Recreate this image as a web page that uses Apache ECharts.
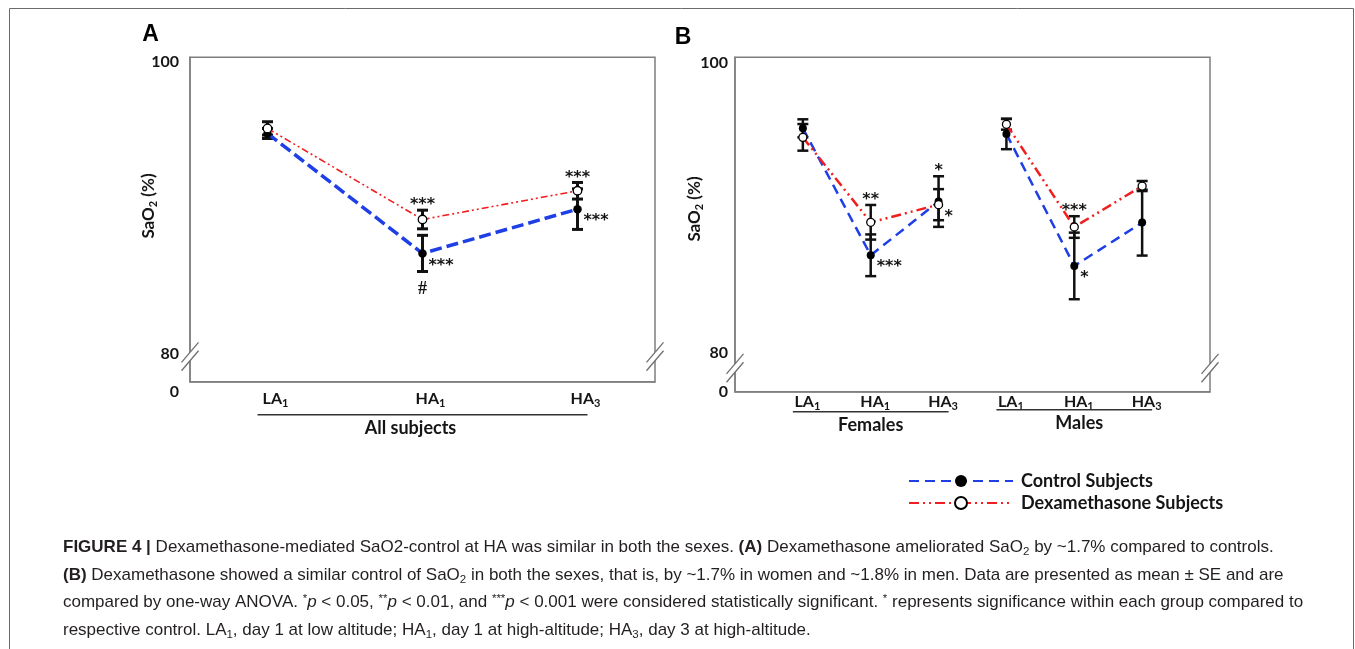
<!doctype html>
<html>
<head>
<meta charset="utf-8">
<title>SaO2 - dexamethasone vs control</title>
<script src="https://cdn.jsdelivr.net/npm/echarts@6/dist/echarts.min.js"></script>
<style>
    html, body{ margin: 0; padding: 0; background: #fff; }
    #chartBox{ width: 1355px; height: 649px; }
</style>
</head>
<body>
<div id="chartBox"></div>
<script type="text/javascript">
    // time points
    var timePoints = ['LA1', 'HA1', 'HA3'];
    // panel B x slots: females 1-3, males 4-6
    var slotLabelsB = ['', 'LA1', 'HA1', 'HA3', 'LA1', 'HA1', 'HA3', ''];

    // y axis is broken below 80, its bottom end is labelled 0
    var yTicksA = [78.1, 80, 100];
    var yTicksB = [77.4, 80, 100];
    var yTickText = ['0', '80', '100'];

    // A: all subjects, mean and SE
    var ctrlAllMean = [94.86, 86.76, 89.75];
    var ctrlAllSE   = [0.34, 1.22, 1.37];
    var dexAllMean  = [95.20, 89.05, 90.99];
    var dexAllSE    = [0.45, 0.63, 0.56];

    // B: females
    var ctrlFemMean = [95.20, 86.62, 90.25];
    var ctrlFemSE   = [0.61, 1.41, 1.71];
    var dexFemMean  = [94.59, 88.85, 90.04];
    var dexFemSE    = [0.90, 1.17, 1.05];

    // B: males
    var ctrlMaleMean = [94.82, 85.90, 88.83];
    var ctrlMaleSE   = [1.03, 2.25, 2.23];
    var dexMaleMean  = [95.47, 88.53, 91.30];
    var dexMaleSE    = [0.36, 0.73, 0.34];

    // significance marks
    var ctrlAllRight  = ['', '***', '***'];
    var ctrlAllBelow  = ['', '#', ''];
    var dexAllAbove   = ['', '***', '***'];
    var ctrlFemRight  = ['', '***', ''];
    var ctrlFemAbove  = ['', '', '*'];
    var dexFemAbove   = ['', '**', ''];
    var dexFemRight   = ['', '', '*'];
    var ctrlMaleRight = ['', '*', ''];
    var dexMaleAbove  = ['', '***', ''];

    var captionLines = [
        '{b|FIGURE 4 |} Dexamethasone-mediated SaO2-control at HA was similar in both the sexes. {b|(A)} Dexamethasone ameliorated SaO{s|2} by ~1.7% compared to controls.',
        '{b|(B)} Dexamethasone showed a similar control of SaO{s|2} in both the sexes, that is, by ~1.7% in women and ~1.8% in men. Data are presented as mean \u00b1 SE and are',
        'compared by one-way ANOVA. {sup|*}{i|p} < 0.05, {sup|**}{i|p} < 0.01, and {sup|***}{i|p} < 0.001 were considered statistically significant. {sup|*} represents significance within each group compared to',
        'respective control. LA{s|1}, day 1 at low altitude; HA{s|1}, day 1 at high-altitude; HA{s|3}, day 3 at high-altitude.'
    ];

    var BLUE = '#1e3ee6', RED = '#f01e1e', AXIS = '#7f7f7f', INK = '#151515';
    var FONT = 'Lato';
    var CAP_FONT = 'Liberation Sans', CAP_SIZE = 17, CAP_INK = '#231f20';

    function tf(extra){
        var o = {fontFamily: FONT, fontWeight: 'bold', fontSize: 16, color: INK};
        for (var k in extra) o[k] = extra[k];
        return o;
    }
    function subLabel(t){
        return t ? '{m|' + t.slice(0, 2) + '}{s|' + t.slice(2) + '}' : '';
    }

    function toXY(offset, arr){
        return arr.map(function(v, i){ return [offset + i, v]; });
    }
    function toBars(offset, mean, se){
        return mean.map(function(v, i){ return [offset + i, v, se[i]]; });
    }

    function noteText(t, x, y, align, serif){
        return {
            type: 'text', x: x, y: y,
            style: {
                text: t, fill: INK,
                fontFamily: serif ? 'Liberation Serif' : 'DejaVu Sans',
                fontWeight: 'bold',
                fontSize: serif ? 18 : 16,
                align: align, textAlign: align,
                verticalAlign: 'middle', textVerticalAlign: 'middle'
            }
        };
    }

    //error bars plus the significance marks around them
    function errorBars(notes, lw){
        return function(params, api){
            var x = api.value(0), m = api.value(1), se = api.value(2);
            var c = api.coord([x, m]);
            var hi = api.coord([x, m + se]);
            var lo = api.coord([x, m - se]);
            var w = 5.5;
            var st = {stroke: '#111', lineWidth: lw};
            var kids = [
                {type: 'line', shape: {x1: c[0], y1: hi[1], x2: c[0], y2: lo[1]}, style: st},
                {type: 'line', shape: {x1: c[0] - w, y1: hi[1], x2: c[0] + w, y2: hi[1]}, style: st},
                {type: 'line', shape: {x1: c[0] - w, y1: lo[1], x2: c[0] + w, y2: lo[1]}, style: st}
            ];
            var i = params.dataIndex;
            if (notes.above && notes.above[i]) kids.push(noteText(notes.above[i], c[0], hi[1] - 5, 'center'));
            if (notes.right && notes.right[i]) kids.push(noteText(notes.right[i], c[0] + 6, c[1] + 12, 'left'));
            if (notes.below && notes.below[i]) kids.push(noteText(notes.below[i], c[0], lo[1] + 18, 'center', true));
            return {type: 'group', children: kids};
        };
    }

    function ctrlLine(name, axis, data, width, dash, size){
        return {
            name: name, type: 'line', xAxisIndex: axis, yAxisIndex: axis, data: data,
            symbol: 'circle', symbolSize: size, z: 3,
            itemStyle: {color: '#000'},
            lineStyle: {color: BLUE, width: width, type: dash}
        };
    }
    function dexLine(name, axis, data, width, dash, size){
        return {
            name: name, type: 'line', xAxisIndex: axis, yAxisIndex: axis, data: data,
            symbol: 'circle', symbolSize: size, z: 4,
            itemStyle: {color: '#fff', borderColor: '#000', borderWidth: 1.3},
            lineStyle: {color: RED, width: width, type: dash}
        };
    }
    function barSeries(axis, data, notes, lw){
        return {
            type: 'custom', xAxisIndex: axis, yAxisIndex: axis, data: data, z: 2,
            renderItem: errorBars(notes, lw), clip: false
        };
    }

    function yAxisFor(idx, ticks, pads, margin){
        var rich = {};
        pads.forEach(function(p, i){ rich['k' + i] = tf({padding: [p, 0, 0, 0]}); });
        return {
            type: 'value', gridIndex: idx, min: ticks[0], max: ticks[2],
            axisLine: {show: true, lineStyle: {color: AXIS, width: 1.5}},
            axisTick: {show: false},
            splitLine: {show: false},
            axisLabel: {
                customValues: ticks, margin: margin,
                formatter: function(v){
                    var i = ticks.indexOf(v);
                    return i < 0 ? '' : '{k' + i + '|' + yTickText[i] + '}';
                },
                rich: rich
            }
        };
    }

    var xRich = {m: tf({}), s: tf({fontSize: 11, padding: [9, 0, 0, 0]})};

    var DASH_B = [10, 6], DOTS_B = [10, 4, 2, 4, 2, 4];

    var option = {
        animation: false,
        backgroundColor: '#fff',
        grid: [
            {left: 190, right: 700, top: 57.3, bottom: 267.3, show: true, borderColor: AXIS, borderWidth: 1.5},
            {left: 735, right: 145, top: 57.3, bottom: 257.3, show: true, borderColor: AXIS, borderWidth: 1.5}
        ],
        xAxis: [
            {
                type: 'category', gridIndex: 0, data: timePoints, boundaryGap: true,
                axisLine: {lineStyle: {color: AXIS, width: 1.5}},
                axisTick: {show: false},
                axisLabel: {margin: 7, padding: [0, 0, 0, 16], formatter: subLabel, rich: xRich}
            },
            {
                type: 'value', gridIndex: 1, min: 0, max: 7, interval: 1,
                axisLine: {lineStyle: {color: AXIS, width: 1.5}},
                axisTick: {show: false},
                splitLine: {show: false},
                axisLabel: {
                    margin: 0, padding: [0, 0, 0, 9], rich: xRich,
                    formatter: function(v){ return subLabel(slotLabelsB[v]); }
                }
            }
        ],
        yAxis: [
            yAxisFor(0, yTicksA, [20, 0, 10], 11),
            yAxisFor(1, yTicksB, [0, 0, 12], 7)
        ],
        legend: {
            data: ['Control Subjects', 'Dexamethasone Subjects'],
            orient: 'vertical', left: 903, top: 467,
            itemWidth: 104, itemHeight: 15, itemGap: 4,
            selectedMode: false,
            textStyle: {fontFamily: FONT, fontWeight: 'bold', fontSize: 18, color: INK, padding: [0, 0, 0, 3]}
        },
        series: [
            // panel B (first, so the legend takes its line styles)
            ctrlLine('Control Subjects', 1, toXY(1, ctrlFemMean), 2.5, DASH_B, 8),
            dexLine('Dexamethasone Subjects', 1, toXY(1, dexFemMean), 2.5, DOTS_B, 8),
            ctrlLine('Control Subjects', 1, toXY(4, ctrlMaleMean), 2.5, DASH_B, 8),
            dexLine('Dexamethasone Subjects', 1, toXY(4, dexMaleMean), 2.5, DOTS_B, 8),
            barSeries(1, toBars(1, ctrlFemMean, ctrlFemSE), {above: ctrlFemAbove, right: ctrlFemRight}, 2.5),
            barSeries(1, toBars(1, dexFemMean, dexFemSE), {above: dexFemAbove, right: dexFemRight}, 2.5),
            barSeries(1, toBars(4, ctrlMaleMean, ctrlMaleSE), {right: ctrlMaleRight}, 2.5),
            barSeries(1, toBars(4, dexMaleMean, dexMaleSE), {above: dexMaleAbove}, 2.5),
            // panel A
            ctrlLine('Control (all)', 0, ctrlAllMean, 3.5, [12, 5], 8.5),
            dexLine('Dexamethasone (all)', 0, dexAllMean, 1.6, [7, 3, 2, 3, 2, 3], 8.5),
            barSeries(0, toBars(0, ctrlAllMean, ctrlAllSE), {right: ctrlAllRight, below: ctrlAllBelow}, 3),
            barSeries(0, toBars(0, dexAllMean, dexAllSE), {above: dexAllAbove}, 3)
        ]
    };

    var myChart = echarts.init(document.getElementById('chartBox'));
    myChart.setOption(option);

    function px(axis, v){ return myChart.convertToPixel({xAxisIndex: axis}, v); }
    function py(axis, v){ return myChart.convertToPixel({yAxisIndex: axis}, v); }

    //"//" axis break marks
    function breakMark(cx, cy){
        var dx = 8.5, dy = 10, off = 4.2;
        var ln = {stroke: '#6f6f6f', lineWidth: 1.3};
        return [
            {type: 'polygon', z: 100, shape: {points: [[cx - dx, cy + dy - off], [cx + dx, cy - dy - off], [cx + dx, cy - dy + off], [cx - dx, cy + dy + off]]}, style: {fill: '#fff'}},
            {type: 'line', z: 101, shape: {x1: cx - dx, y1: cy + dy - off, x2: cx + dx, y2: cy - dy - off}, style: ln},
            {type: 'line', z: 101, shape: {x1: cx - dx, y1: cy + dy + off, x2: cx + dx, y2: cy - dy + off}, style: ln}
        ];
    }

    function plainText(t, x, y, size, align, rot){
        return {
            type: 'text', x: x, y: y, rotation: rot || 0, z: 50,
            style: {
                text: t, fill: INK, fontFamily: FONT, fontWeight: 'bold', fontSize: size,
                align: align || 'center', textAlign: align || 'center',
                verticalAlign: 'middle', textVerticalAlign: 'middle',
                rich: {n: tf({fontSize: size}), s: tf({fontSize: 11, padding: [9, 0, 0, 0]})}
            }
        };
    }

    function groupMark(axis, first, last, lineY, label, dx){
        var x1 = px(axis, first) - 10, x2 = px(axis, last) + 10;
        return [
            {type: 'line', z: 50, shape: {x1: x1, y1: lineY, x2: x2, y2: lineY}, style: {stroke: '#333', lineWidth: 1.6}},
            plainText(label, px(axis, Math.round((first + last) / 2)) + dx, lineY + 13, 18)
        ];
    }

    var capRich = {
        b: {fontFamily: CAP_FONT, fontSize: CAP_SIZE, fontWeight: 'bold', color: CAP_INK},
        i: {fontFamily: CAP_FONT, fontSize: CAP_SIZE, fontStyle: 'italic', color: CAP_INK},
        s: {fontFamily: CAP_FONT, fontSize: 11.5, color: CAP_INK, padding: [9, 0, 0, 0]},
        sup: {fontFamily: CAP_FONT, fontSize: 11.5, color: CAP_INK, padding: [0, 0, 6, 0]}
    };

    var baseA = py(0, yTicksA[0]), baseB = py(1, yTicksB[0]);
    var graphics = [
        {type: 'rect', z: 0, shape: {x: 9.5, y: 8.5, width: 1344, height: 700}, style: {fill: 'none', stroke: '#6a6a6a', lineWidth: 1}},
        {type: 'text', x: 150.5, y: 35, style: {text: 'A', fontFamily: 'Liberation Sans', fontWeight: 'bold', fontSize: 23, fill: '#000', align: 'center', textAlign: 'center', verticalAlign: 'middle', textVerticalAlign: 'middle'}},
        {type: 'text', x: 683, y: 38, style: {text: 'B', fontFamily: 'Liberation Sans', fontWeight: 'bold', fontSize: 23, fill: '#000', align: 'center', textAlign: 'center', verticalAlign: 'middle', textVerticalAlign: 'middle'}},
        plainText('{n|SaO}{s|2}{n| (%)}', 149, 206, 17, 'center', Math.PI / 2),
        plainText('{n|SaO}{s|2}{n| (%)}', 695, 209, 17, 'center', Math.PI / 2)
    ];
    graphics = graphics
        .concat(groupMark(0, 0, 2, baseA + 33, 'All subjects', -12))
        .concat(groupMark(1, 1, 3, baseB + 20, 'Females', 0))
        .concat(groupMark(1, 4, 6, baseB + 18, 'Males', 5))
        .concat(breakMark(190, py(0, 79.8)))
        .concat(breakMark(655, py(0, 79.8)))
        .concat(breakMark(735, py(1, 79.0)))
        .concat(breakMark(1210, py(1, 79.0)));

    var capY = [547, 575, 602, 630];
    captionLines.forEach(function(t, i){
        graphics.push({
            type: 'text', x: 63, y: capY[i], z: 50,
            style: {
                text: t, fill: CAP_INK, fontFamily: CAP_FONT, fontSize: CAP_SIZE,
                align: 'left', textAlign: 'left', verticalAlign: 'middle', textVerticalAlign: 'middle',
                rich: capRich
            }
        });
    });

    myChart.setOption({graphic: graphics});
</script>
</body>
</html>
